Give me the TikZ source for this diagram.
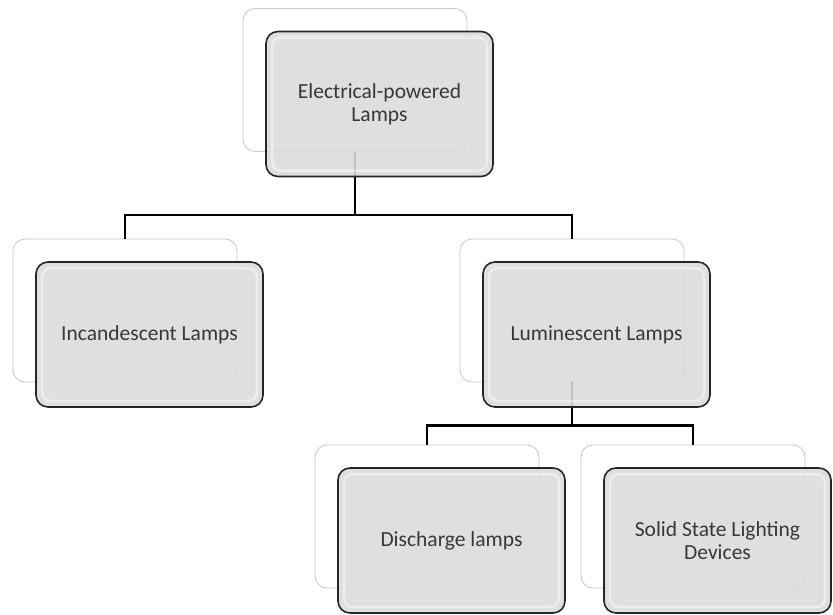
\documentclass[tikz,border=0pt]{standalone}
\usepackage{fontspec}
\setmainfont{Carlito}
\usetikzlibrary{positioning}
\tikzset{
  backbox/.style={draw=black!22, fill=white, line width=0.8pt, rounded corners=12pt,
    minimum width=224pt, minimum height=143pt, inner sep=0pt},
  frontbox/.style={draw=black!85, fill=black!14, fill opacity=0.88, text opacity=1,
    line width=1.6pt, rounded corners=12pt, minimum width=227pt, minimum height=145pt,
    inner sep=0pt, align=center, text=black!78, font=\fontsize{21.5}{23}\selectfont,
    path picture={\draw[white, opacity=0.45, line width=2.5pt, rounded corners=9pt]
      ([shift={(6pt,-6pt)}]path picture bounding box.north west) rectangle
      ([shift={(-6pt,6pt)}]path picture bounding box.south east);}},
  link/.style={line width=2.8pt, black}
}

\begin{document}
\begin{tikzpicture}[x=1pt, y=-1pt]
  \useasboundingbox (0, 0) rectangle (833, 614);

  % back boxes
  \node [backbox] (topB) at (355, 80){};
  \node [backbox] (incB) at (125, 310.5){};
  \node [backbox] (lumB) at (572, 310.5){};
  \node [backbox] (disB) at (427, 516.5){};
  \node [backbox] (solB) at (693, 516.5){};

  % top level links
  \draw [link] (topB.south)--++(0, 63) coordinate (topJ);
  \draw [link] (topJ) -| (incB.north);
  \draw [link] (topJ) -| (lumB.north);

  % luminescent links
  \draw [link] (lumB.south)--++(0, 43) coordinate (lumJ);
  \draw [link] (lumJ) -| (disB.north);
  \draw [link] (lumJ) -| (solB.north);

  % front boxes
  \node [frontbox] (topF) at ([shift={(24.5, 24)}]topB){Electrical-powered\\Lamps};
  \node [frontbox] (incF) at ([shift={(24.5, 24)}]incB){Incandescent Lamps};
  \node [frontbox] (lumF) at ([shift={(24.5, 24)}]lumB){Luminescent Lamps};
  \node [frontbox] (disF) at ([shift={(24.5, 24)}]disB){Discharge lamps};
  \node [frontbox] (solF) at ([shift={(24.5, 24)}]solB){Solid State Lighting\\Devices};
\end{tikzpicture}
\end{document}
